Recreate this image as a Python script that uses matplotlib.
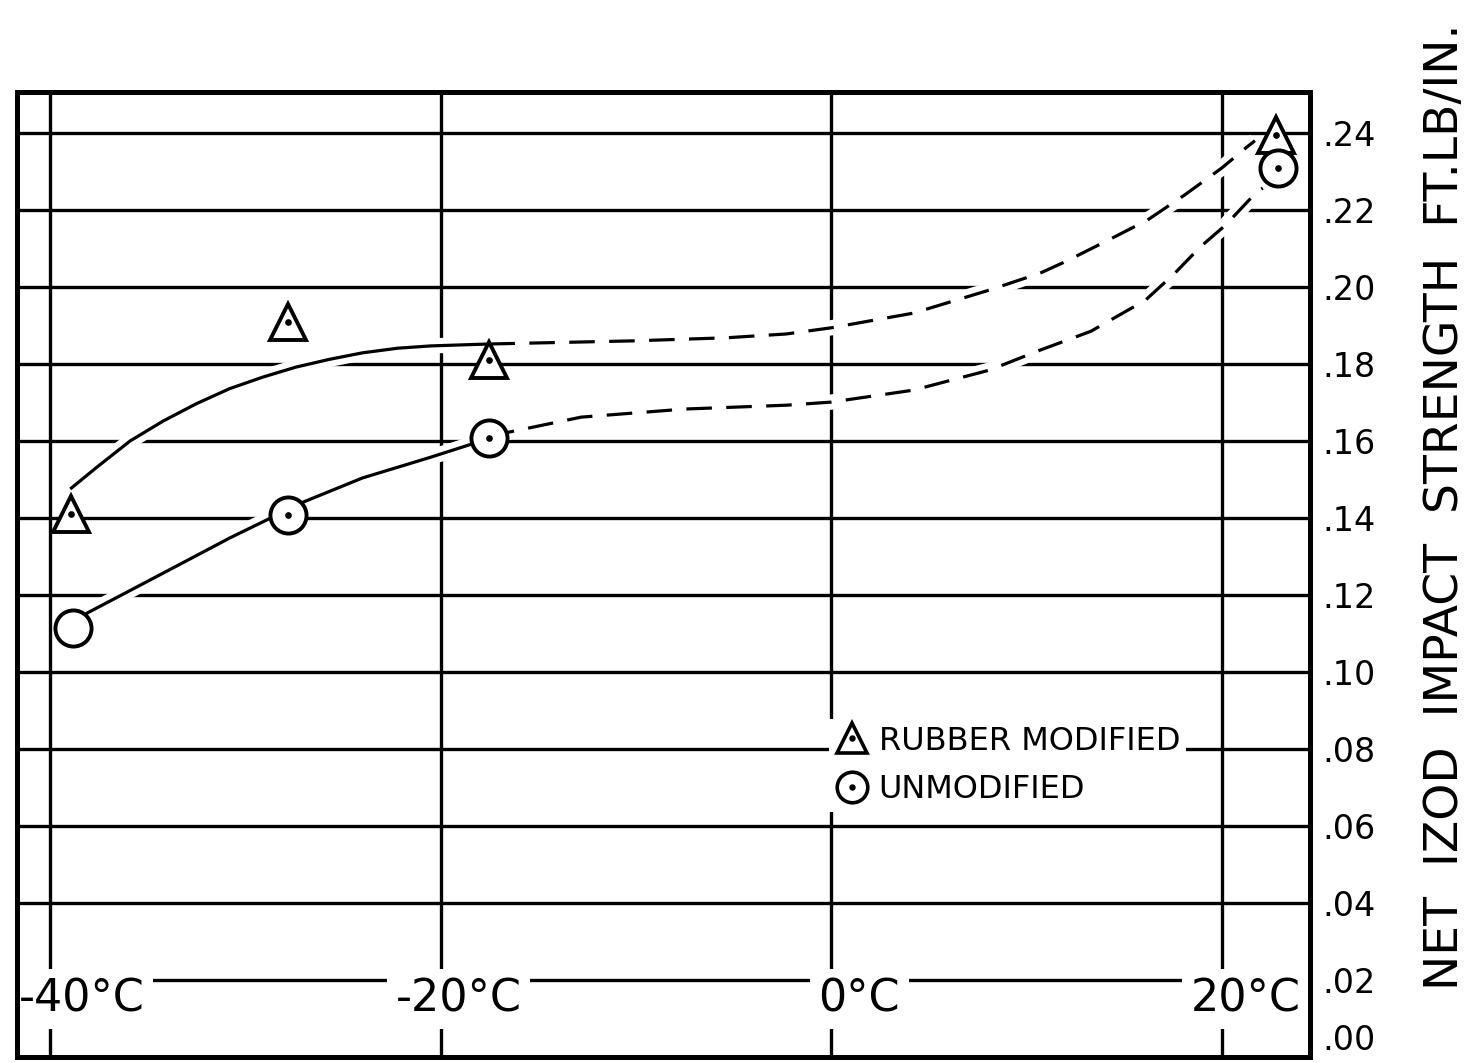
import matplotlib
matplotlib.use("Agg")
import matplotlib.pyplot as plt
from matplotlib.lines import Line2D
from matplotlib.legend_handler import HandlerTuple

# ---- data ----
temps = [-40, -20, 0, 20]
temp_labels = ['-40°C', '-20°C', '0°C', '20°C']
y_ticks = [0.00, 0.02, 0.04, 0.06, 0.08, 0.10, 0.12, 0.14, 0.16, 0.18, 0.20, 0.22, 0.24]
y_labels = ['.00', '.02', '.04', '.06', '.08', '.10', '.12', '.14', '.16', '.18', '.20', '.22', '.24']

rub_x = [-38.9, -27.8, -17.5, 22.8]
rub_y = [0.141, 0.191, 0.181, 0.2395]
unm_x = [-38.8, -27.8, -17.5, 22.9]
unm_y = [0.1114, 0.1408, 0.1608, 0.2309]

rub_solid_x = [-38.9, -37.6, -35.9, -34.2, -32.5, -30.8, -29.1, -27.4, -25.7, -24.0, -22.2, -20.5, -17.5]
rub_solid_y = [0.1478, 0.1532, 0.1600, 0.1652, 0.1697, 0.1736, 0.1766, 0.1792, 0.1812, 0.1829, 0.1841, 0.1847, 0.1852]
rub_dash_x = [-17.5, -10.2, -5.4, -2.3, 0.0, 4.2, 8.1, 10.7, 12.0, 14.2, 16.2, 18.1, 20.0, 21.3, 21.7]
rub_dash_y = [0.1852, 0.1860, 0.1868, 0.1878, 0.1894, 0.1932, 0.1992, 0.2036, 0.2066, 0.2122, 0.2174, 0.2239, 0.2309, 0.2364, 0.2380]

unm_solid_x = [-38.8, -38.1, -34.2, -30.8, -28.7, -27.0, -24.0, -20.5, -18.1, -17.5]
unm_solid_y = [0.1114, 0.1153, 0.1257, 0.1348, 0.1400, 0.1442, 0.1504, 0.1558, 0.1597, 0.1608]
unm_dash_x = [-17.5, -16.5, -12.8, -7.5, -2.3, 0.0, 4.2, 8.1, 10.7, 13.3, 16.1, 17.6, 18.9, 20.2, 21.7, 22.1]
unm_dash_y = [0.1608, 0.1623, 0.1662, 0.1683, 0.1693, 0.1701, 0.1732, 0.1784, 0.1836, 0.1885, 0.1966, 0.2036, 0.2104, 0.2161, 0.2242, 0.2257]

legend_labels = ['RUBBER MODIFIED', 'UNMODIFIED']
y_title = 'NET  IZOD  IMPACT  STRENGTH  FT.LB/IN.'

plt.rcParams['font.family'] = ['DejaVu Sans']

W, H = 1476, 1063
fig = plt.figure(figsize=(W / 100, H / 100), dpi=100)
fig.patch.set_facecolor('white')
L, R, T, B = 17, 1310, 92, 1057
ax = fig.add_axes([L / W, 1 - B / H, (R - L) / W, (B - T) / H])

ax.set_xlim(-41.69, 24.52)
ax.set_ylim(0.0, 0.25065)

for s in ax.spines.values():
    s.set_linewidth(3.6)
    s.set_color('black')
    s.set_zorder(10)

# grid
ax.set_xticks(temps)
ax.set_xticklabels([])
ax.tick_params(axis='x', length=0)
ax.yaxis.tick_right()
ax.set_yticks(y_ticks)
ax.set_yticklabels(y_labels, fontsize=24)
ax.tick_params(axis='y', length=0, pad=9)
ax.yaxis.get_ticklabels()[0].set_va('bottom')
ax.grid(True, color='black', linewidth=2.4, zorder=1)
ax.set_axisbelow(True)

# white halos to break grid lines at crossings
for xs, ys in [(rub_solid_x, rub_solid_y), (rub_dash_x, rub_dash_y),
               (unm_solid_x, unm_solid_y), (unm_dash_x, unm_dash_y)]:
    ax.plot(xs, ys, color='white', lw=11, solid_capstyle='butt', zorder=2)

ax.plot(rub_solid_x, rub_solid_y, color='black', lw=2.3, zorder=3)
ax.plot(unm_solid_x, unm_solid_y, color='black', lw=2.3, zorder=3)
ax.plot(rub_dash_x, rub_dash_y, color='black', lw=2.3, dashes=(8, 4.5), zorder=3)
ax.plot(unm_dash_x, unm_dash_y, color='black', lw=2.3, dashes=(8, 4.5), zorder=3)

# markers
ax.plot(rub_x, rub_y, ls='none', marker='^', ms=26, mfc='white', mec='black', mew=2.8, zorder=4)
ax.plot(unm_x, unm_y, ls='none', marker='o', ms=26, mfc='white', mec='black', mew=2.8, zorder=4)
ax.plot(rub_x, rub_y, ls='none', marker='o', ms=3.8, color='black', zorder=5)
ax.plot(unm_x[1:], unm_y[1:], ls='none', marker='o', ms=3.8, color='black', zorder=5)

# x labels inside the plot
offsets = [-1.6, -2.3, -0.65, -1.6]
for t, lab, off in zip(temps, temp_labels, offsets):
    ax.text(t + off, 0.0150, lab, fontsize=32, ha='left', va='center', zorder=6,
            bbox=dict(facecolor='white', edgecolor='none', pad=6))

# legend
tri = Line2D([], [], ls='none', marker='^', ms=22, mfc='white', mec='black', mew=2.6)
circ = Line2D([], [], ls='none', marker='o', ms=22, mfc='white', mec='black', mew=2.6)
dot = Line2D([], [], ls='none', marker='o', ms=3.6, color='black')
leg = ax.legend([(tri, dot), (circ, dot)], legend_labels,
                handler_map={tuple: HandlerTuple(ndivide=1)},
                loc='upper left', bbox_to_anchor=(0.628, 0.350),
                frameon=True, fancybox=False, facecolor='white', edgecolor='none',
                framealpha=1, fontsize=23, handlelength=1.05, handletextpad=0.3,
                borderpad=0.2, labelspacing=0.55, borderaxespad=0)
leg.set_zorder(6)

# y title on far right
fig.text(1445 / W, 1 - 507 / H, y_title, rotation=90, fontsize=34,
         ha='center', va='center')

fig.savefig('out.png', dpi=100, facecolor='white')
